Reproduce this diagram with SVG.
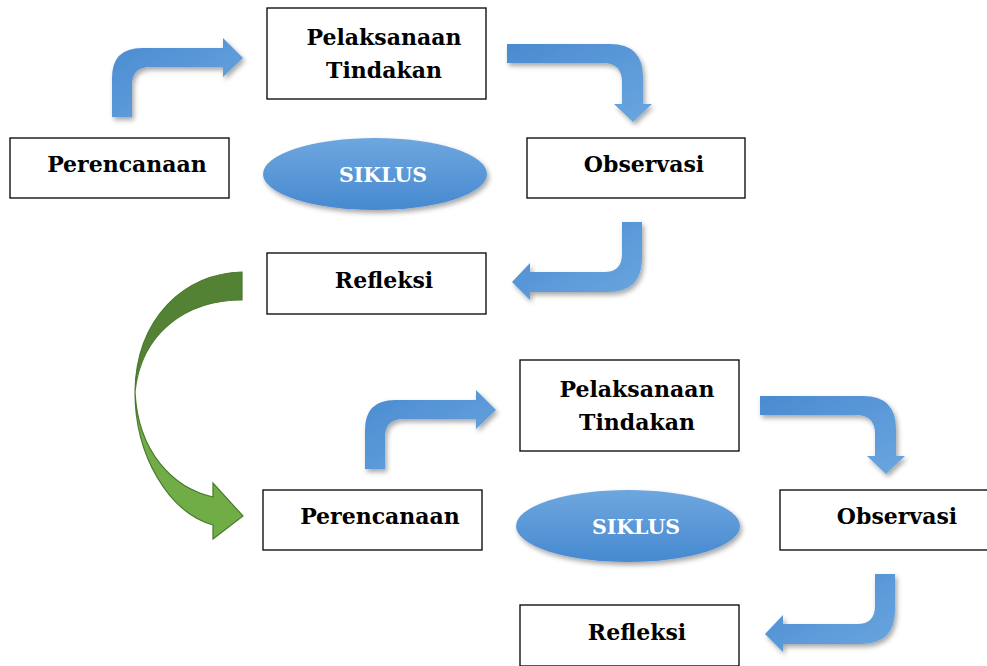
<svg xmlns="http://www.w3.org/2000/svg" width="987" height="666" viewBox="0 0 987 666">
<defs>
<linearGradient id="gArrow" x1="0" y1="0" x2="1" y2="1">
<stop offset="0" stop-color="#4a8bd0"/><stop offset="1" stop-color="#6aa6e0"/>
</linearGradient>
<linearGradient id="gEll" x1="0" y1="0" x2="0" y2="1">
<stop offset="0" stop-color="#6ea7df"/><stop offset="1" stop-color="#4789d0"/>
</linearGradient>
<filter id="sh" x="-20%" y="-20%" width="150%" height="150%">
<feDropShadow dx="2" dy="3" stdDeviation="2.5" flood-color="#000" flood-opacity="0.35"/>
</filter>
<style>
.box{fill:#fff;stroke:#000;stroke-width:1.3}
.t{font-family:"DejaVu Serif","Liberation Serif",serif;font-weight:bold;font-size:22px;fill:#000;text-anchor:middle}
.tw{font-family:"DejaVu Serif","Liberation Serif",serif;font-weight:bold;font-size:20.5px;fill:#fff;text-anchor:middle}
.arr{fill:url(#gArrow);filter:url(#sh)}
.ell{fill:url(#gEll);filter:url(#sh)}
</style>
</defs>
<g id="connectors">
<g id="cycle1-arrows">
<path class="arr" d="M112,117 L112,78 Q112,48 142,48 L223,48 L223,38 L243,58 L223,77 L223,67 L150,67 Q132,67 132,85 L132,117 Z"/>
<path class="arr" d="M507,44 L610,44 Q643,44 643,77 L643,104 L652,104 L633,122 L614,104 L622,104 L622,82 Q622,63 603,63 L507,63 Z"/>
<path class="arr" d="M622,222 L642,222 L642,258 Q642,292 608,292 L530,292 L530,300 L512,282 L530,263 L530,272 L604,272 Q622,272 622,254 Z"/>
</g>
<g id="cycle2-arrows" transform="translate(253,352)">
<path class="arr" d="M112,117 L112,78 Q112,48 142,48 L223,48 L223,38 L243,58 L223,77 L223,67 L150,67 Q132,67 132,85 L132,117 Z"/>
<path class="arr" d="M507,44 L610,44 Q643,44 643,77 L643,104 L652,104 L633,122 L614,104 L622,104 L622,82 Q622,63 603,63 L507,63 Z"/>
<path class="arr" d="M622,222 L642,222 L642,258 Q642,292 608,292 L530,292 L530,300 L512,282 L530,263 L530,272 L604,272 Q622,272 622,254 Z"/>
</g>
<g id="green-arrow" stroke="#4a7a2c" stroke-width="1.2" stroke-linejoin="miter">
<path fill="#548235" d="M242,272 C185,273 136,318 135,392 C141,333 186,300 242,300 Z"/>
<path fill="#70ad47" d="M135,392 C135,455 168,512 213,525 L213,539 L243,516 L213,483 L213,497 C173,488 138,452 135,392 Z"/>
</g>
</g>
<g id="cycle1">
<g id="perencanaan1"><rect class="box" x="10" y="138" width="219" height="60"/><text class="t" x="127" y="172">Perencanaan</text></g>
<g id="pelaksanaan1"><rect class="box" x="267" y="8" width="219" height="91"/><text class="t" x="384" y="45">Pelaksanaan</text><text class="t" x="384" y="78">Tindakan</text></g>
<g id="siklus1"><ellipse class="ell" cx="375" cy="174" rx="112" ry="36"/><text class="tw" x="383" y="182">SIKLUS</text></g>
<g id="observasi1"><rect class="box" x="527" y="138" width="218" height="60"/><text class="t" x="644" y="172">Observasi</text></g>
<g id="refleksi1"><rect class="box" x="267" y="253" width="219" height="61"/><text class="t" x="384" y="288">Refleksi</text></g>
</g>
<g id="cycle2" transform="translate(253,352)">
<g id="perencanaan2"><rect class="box" x="10" y="138" width="219" height="60"/><text class="t" x="127" y="172">Perencanaan</text></g>
<g id="pelaksanaan2"><rect class="box" x="267" y="8" width="219" height="91"/><text class="t" x="384" y="45">Pelaksanaan</text><text class="t" x="384" y="78">Tindakan</text></g>
<g id="siklus2"><ellipse class="ell" cx="375" cy="174" rx="112" ry="36"/><text class="tw" x="383" y="182">SIKLUS</text></g>
<g id="observasi2"><rect class="box" x="527" y="138" width="218" height="60"/><text class="t" x="644" y="172">Observasi</text></g>
<g id="refleksi2"><rect class="box" x="267" y="253" width="219" height="61"/><text class="t" x="384" y="288">Refleksi</text></g>
</g>
</svg>
